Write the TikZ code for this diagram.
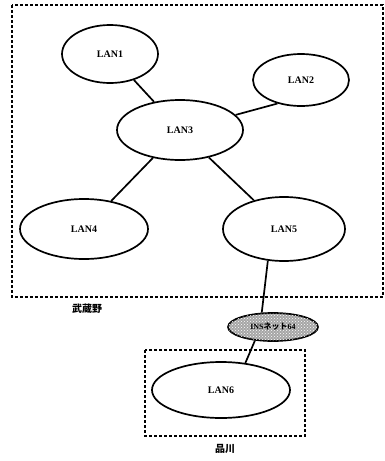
\documentclass[tikz,border=0pt]{standalone}
\usepackage{fontspec}
\setmainfont{Liberation Serif}
\newfontfamily\jpfont{Noto Sans CJK JP}
\usetikzlibrary{shapes.geometric,patterns}
\begin{document}
\begin{tikzpicture}[x=1pt,y=-1pt,
  lan/.style={draw,ellipse,line width=1.7pt,inner sep=0pt,
    font=\fontsize{10}{11}\selectfont\bfseries},
  link/.style={line width=1.7pt},
  zone/.style={draw,densely dashed,line width=1.3pt},
  place/.style={font=\jpfont\fontsize{10}{11}\selectfont\bfseries}]
\useasboundingbox (0,0) rectangle (384,461);

% site boundaries
\draw[zone] (12,5) rectangle (383,297);
\draw[zone] (145,350) rectangle (305,436);

% LAN segments
\node[lan,minimum width=96pt,minimum height=58pt] (l1) at (110,54) {LAN1};
\node[lan,minimum width=96pt,minimum height=52pt] (l2) at (301,80) {LAN2};
\node[lan,minimum width=126pt,minimum height=60pt] (l3) at (180,130) {LAN3};
\node[lan,minimum width=128pt,minimum height=60pt] (l4) at (84,229) {LAN4};
\node[lan,minimum width=122pt,minimum height=64pt] (l5) at (284,229) {LAN5};
\node[lan,minimum width=138pt,minimum height=56pt] (l6) at (221,390) {LAN6};

% public network
\node[lan,minimum width=90pt,minimum height=28pt,fill=gray!70,
  postaction={pattern=crosshatch dots,pattern color=white}] (ins) at (273,327)
  {\fontsize{8}{9}\selectfont INS\jpfont ネット\rmfamily 64};

% links
\draw[link] (l1) -- (l3);
\draw[link] (l2.225) -- (l3);
\draw[link] (l3) -- (l4);
\draw[link] (l3) -- (l5);
\draw[link] (l5.243) -- (ins.128);
\draw[link] (ins.217) -- (l6.48);

% site names
\node[place] (musashino) at (87,309) {武蔵野};
\node[place] (shinagawa) at (225,449) {品川};
\end{tikzpicture}
\end{document}
